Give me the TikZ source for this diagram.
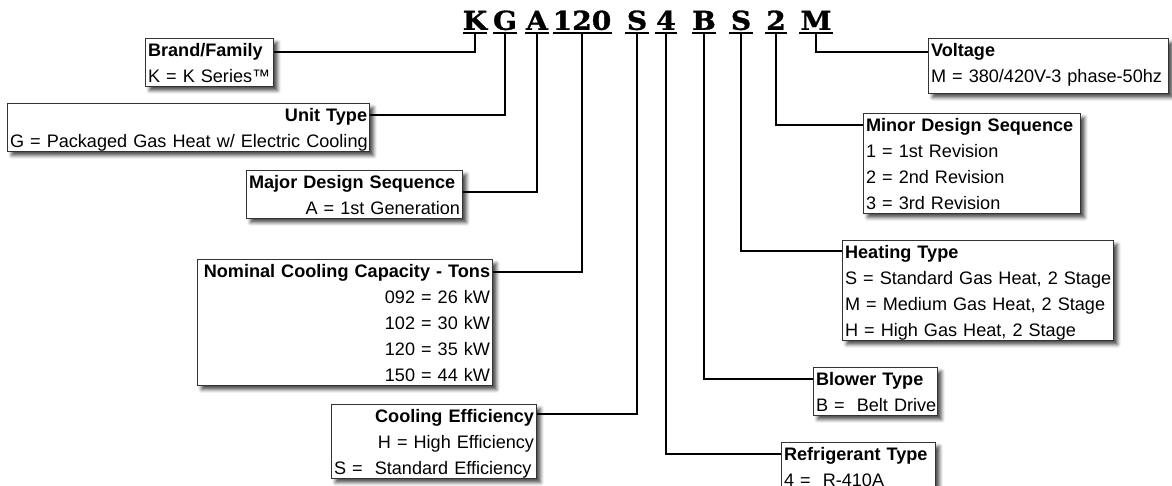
\documentclass[tikz,border=0pt]{standalone}
\usepackage{fontspec}
\setmainfont{Liberation Sans}
\newfontfamily\codefont{DejaVu Serif}[BoldFeatures={FakeBold=1.2,FakeStretch=1.08}]
\usepackage{tikz}
\usetikzlibrary{shadows.blur}
\setlength{\parindent}{0pt}
\newcommand\kstrut{\rule[-4pt]{0pt}{22pt}}
\newcommand\kl[1]{\kstrut\mbox{#1}}
\newcommand\kr[1]{\hspace*{\fill}\kstrut\mbox{#1}}

\begin{document}
\begin{tikzpicture}[x=1pt,y=-1pt,
  code/.style={font=\codefont\bfseries\fontsize{26}{30}\selectfont,anchor=south,inner xsep=0pt,inner ysep=3pt,text depth=0pt},
  uline/.style={line width=2pt},
  conn/.style={line width=2pt},
  keybox/.style={draw=black!80,line width=1.1pt,fill=white,anchor=north west,inner xsep=2.5pt,inner ysep=0pt,align=left,
    font=\fontsize{18.1}{26}\selectfont,
    blur shadow={shadow xshift=4pt,shadow yshift=-4pt,shadow blur radius=3.5pt,shadow opacity=70}}]
\useasboundingbox (0,0) rectangle (1172,485);
\foreach \nm/\txt/\x/\w in {cK/K/475/23,cG/G/505/24,cA/A/537/24,cCap/120/582/57,cS/S/637/23,
  cFour/4/666/22,cB/B/704/23,cSh/S/741/24,cTwo/2/776/22,cM/M/816/33}{
  \node[code,minimum width=\w pt] (\nm) at (\x,33) {\txt};
  \draw[uline] (\nm.south west) -- (\nm.south east);
}
\node[keybox,text width=123pt] (brand) at (145,38) {\kl{\bfseries Brand/Family}\\\kl{K = K Series™}};
\node[keybox,text width=357pt] (unittype) at (7,103) {\kr{\bfseries Unit Type}\\\kl{G = Packaged Gas Heat w/ Electric Cooling}};
\node[keybox,text width=211pt] (majorseq) at (246,170) {\kl{\bfseries Major Design Sequence}\\\kr{A = 1st Generation}};
\node[keybox,text width=290pt] (capacity) at (197,259) {\kr{\bfseries Nominal Cooling Capacity - Tons}\\\kr{092 = 26 kW}\\\kr{102 = 30 kW}\\\kr{120 = 35 kW}\\\kr{150 = 44 kW}};
\node[keybox,text width=200pt] (coolingeff) at (331,404) {\kr{\bfseries Cooling Efficiency}\\\kr{H = High Efficiency}\\\kl{S = \ Standard Efficiency}};
\node[keybox,text width=149pt] (refrig) at (781,442) {\kl{\bfseries Refrigerant Type}\\\kl{4 = \ R-410A}};
\node[keybox,text width=119pt] (blower) at (813,367) {\kl{\bfseries Blower Type}\\\kl{B = \ Belt Drive}};
\node[keybox,text width=266pt] (heating) at (842,240) {\kl{\bfseries Heating Type}\\\kl{S = Standard Gas Heat, 2 Stage}\\\kl{M = Medium Gas Heat, 2 Stage}\\\kl{H = High Gas Heat, 2 Stage}};
\node[keybox,text width=212pt] (minorseq) at (863,113) {\kl{\bfseries Minor Design Sequence}\\\kl{1 = 1st Revision}\\\kl{2 = 2nd Revision}\\\kl{3 = 3rd Revision}};
\node[keybox,text width=235pt] (voltage) at (928,38) {\kl{\bfseries Voltage}\\\kl{M = 380/420V-3 phase-50hz}\rule[-11pt]{0pt}{11pt}};
\draw[conn] (cK.south) |- ([yshift=-14pt]brand.north east);
\draw[conn] (cG.south) |- ([yshift=-12pt]unittype.north east);
\draw[conn] (cA.south) |- ([yshift=-22pt]majorseq.north east);
\draw[conn] (cCap.south) |- ([yshift=-13pt]capacity.north east);
\draw[conn] (cS.south) |- ([yshift=-10pt]coolingeff.north east);
\draw[conn] (cFour.south) |- ([yshift=-12pt]refrig.north west);
\draw[conn] (cB.south) |- ([yshift=-12pt]blower.north west);
\draw[conn] (cSh.south) |- ([yshift=-11pt]heating.north west);
\draw[conn] (cTwo.south) |- ([yshift=-12pt]minorseq.north west);
\draw[conn] (cM.south) |- ([yshift=-14pt]voltage.north west);
\end{tikzpicture}
\end{document}
